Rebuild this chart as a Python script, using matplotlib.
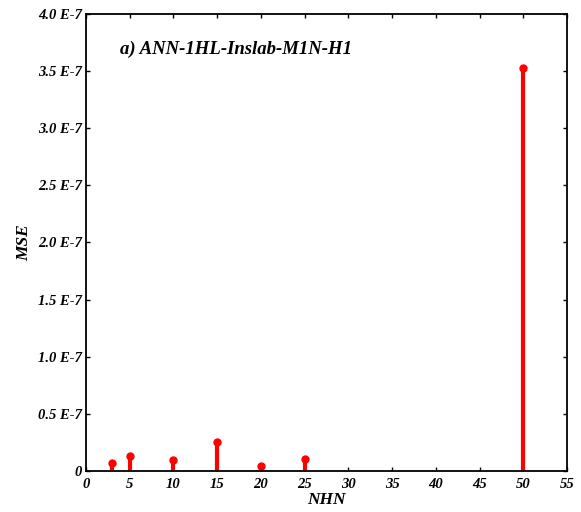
import matplotlib
matplotlib.use("Agg")
import matplotlib.pyplot as plt
import numpy as np

nhn = [3, 5, 10, 15, 20, 25, 50]
mse = [0.07e-7, 0.13e-7, 0.096e-7, 0.255e-7, 0.045e-7, 0.105e-7, 3.525e-7]

yticks = np.arange(0, 4.01e-7, 0.5e-7)
ylabels = ["0", "0.5 E-7", "1.0 E-7", "1.5 E-7", "2.0 E-7", "2.5 E-7",
           "3.0 E-7", "3.5 E-7", "4.0 E-7"]
xticks = list(range(0, 56, 5))

plt.rcParams['font.family'] = 'Liberation Serif'
fnt = dict(fontweight='bold', fontstyle='italic')

fig = plt.figure(figsize=(5.81, 5.12), dpi=100)
ax = fig.add_axes([0.148, 0.080, 0.828, 0.893])

ax.vlines(nhn, 0, mse, color='red', linewidth=3)
ax.plot(nhn, mse, 'o', color='red', markersize=5)

ax.set_xlim(0, 55)
ax.set_ylim(0, 4.0e-7)
ax.set_xticks(xticks)
ax.set_xticklabels([str(t) for t in xticks], fontsize=10.5, **fnt)
ax.set_yticks(yticks)
ax.set_yticklabels(ylabels, fontsize=10.5, **fnt)
ax.tick_params(direction='in', top=True, right=True, length=3, width=1, pad=3)
ax.tick_params(axis='x', pad=5)
for s in ax.spines.values():
    s.set_linewidth(1.3)

ax.set_xlabel('NHN', fontsize=12.5, labelpad=1, **fnt)
ax.set_ylabel('MSE', fontsize=12.5, labelpad=4, **fnt)
ax.text(0.071, 0.922, 'a) ANN-1HL-Inslab-M1N-H1', transform=ax.transAxes,
        fontsize=13.5, va='center', **fnt)

fig.savefig('out.png', dpi=100)
